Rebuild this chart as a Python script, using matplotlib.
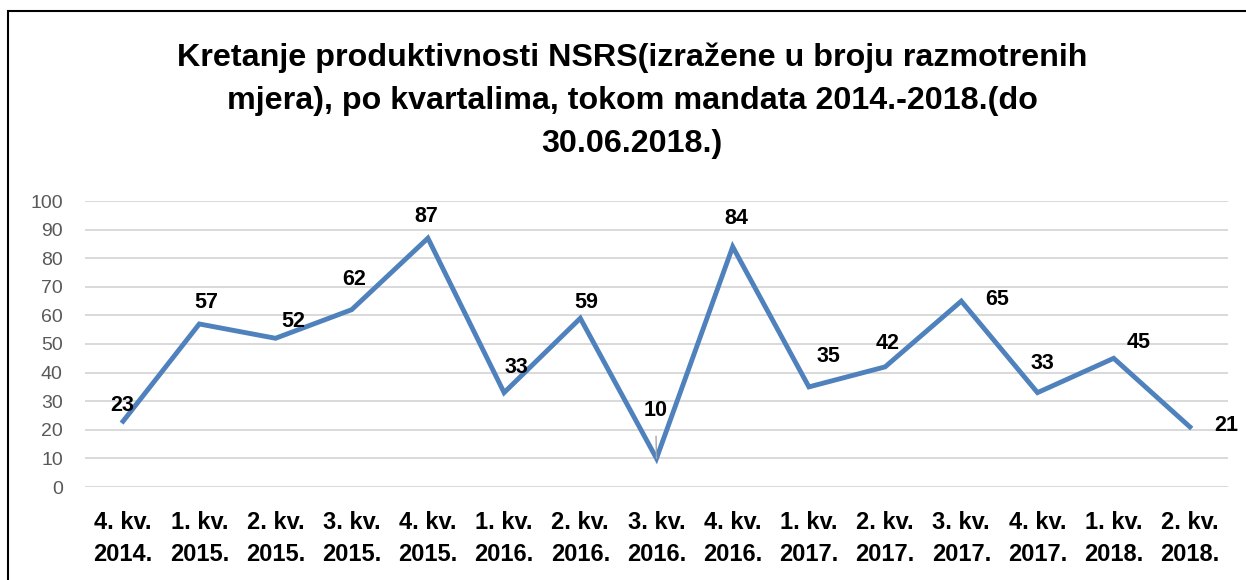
import matplotlib
matplotlib.use('Agg')
import matplotlib.pyplot as plt
from matplotlib.patches import Rectangle

plt.rcParams['font.family'] = ['Liberation Sans', 'DejaVu Sans']

quarters = ['4. kv.\n2014.', '1. kv.\n2015.', '2. kv.\n2015.', '3. kv.\n2015.', '4. kv.\n2015.',
            '1. kv.\n2016.', '2. kv.\n2016.', '3. kv.\n2016.', '4. kv.\n2016.', '1. kv.\n2017.',
            '2. kv.\n2017.', '3. kv.\n2017.', '4. kv.\n2017.', '1. kv.\n2018.', '2. kv.\n2018.']
values = [23, 57, 52, 62, 87, 33, 59, 10, 84, 35, 42, 65, 33, 45, 21]
# label offsets in pixels (dx, dy), as placed in the original
label_offsets = [(-1, 16), (7, 21), (18, 17), (2, 30), (-2, 22), (12, 25), (6, 16), (-1, 48),
                 (4, 28), (20, 30), (3, 23), (36, 2), (5, 29), (25, 16), (36, 1)]

title = ('Kretanje produktivnosti NSRS(izražene u broju razmotrenih\n'
         'mjera), po kvartalima, tokom mandata 2014.-2018.(do\n'
         '30.06.2018.)')

fig = plt.figure(figsize=(12.46, 5.8), dpi=100)
ax = fig.add_axes([85/1246, 1 - 487/580, (1228-85)/1246, (487-201)/580])

x = list(range(len(values)))
ax.plot(x, values, color='#4f81bd', linewidth=3.5, solid_joinstyle='miter', zorder=3)

for i, (v, off) in enumerate(zip(values, label_offsets)):
    props = None
    if i == 7:
        props = dict(arrowstyle='-', color='#a6a6a6', lw=1, shrinkA=9, shrinkB=0)
    ax.annotate(str(v), (i, v), xytext=off, textcoords='offset pixels',
                ha='center', va='center', fontsize=15.5, fontweight='bold',
                color='black', arrowprops=props, zorder=4)

ax.set_xlim(-0.5, len(values) - 0.5)
ax.set_ylim(0, 100)
ax.set_yticks(range(0, 101, 10))
ax.yaxis.grid(True, color='#d9d9d9', linewidth=1.4)
ax.set_axisbelow(True)
for s in ax.spines.values():
    s.set_visible(False)
ax.tick_params(axis='both', length=0)
ax.tick_params(axis='y', labelsize=14, labelcolor='#595959', pad=16)
ax.set_xticks(x)
ax.set_xticklabels(quarters, fontsize=17, fontweight='bold', linespacing=1.5)
ax.tick_params(axis='x', pad=17)

fig.text(632/1246, 1 - 101/580, title, ha='center', va='center', fontsize=23.2,
         fontweight='bold', linespacing=1.56)

fig.patches.append(Rectangle((8/1246, -0.1), 1.2, 1 - 11/580 + 0.1, transform=fig.transFigure,
                             fill=False, edgecolor='black', linewidth=1.5))

fig.savefig('out.png', dpi=100)
